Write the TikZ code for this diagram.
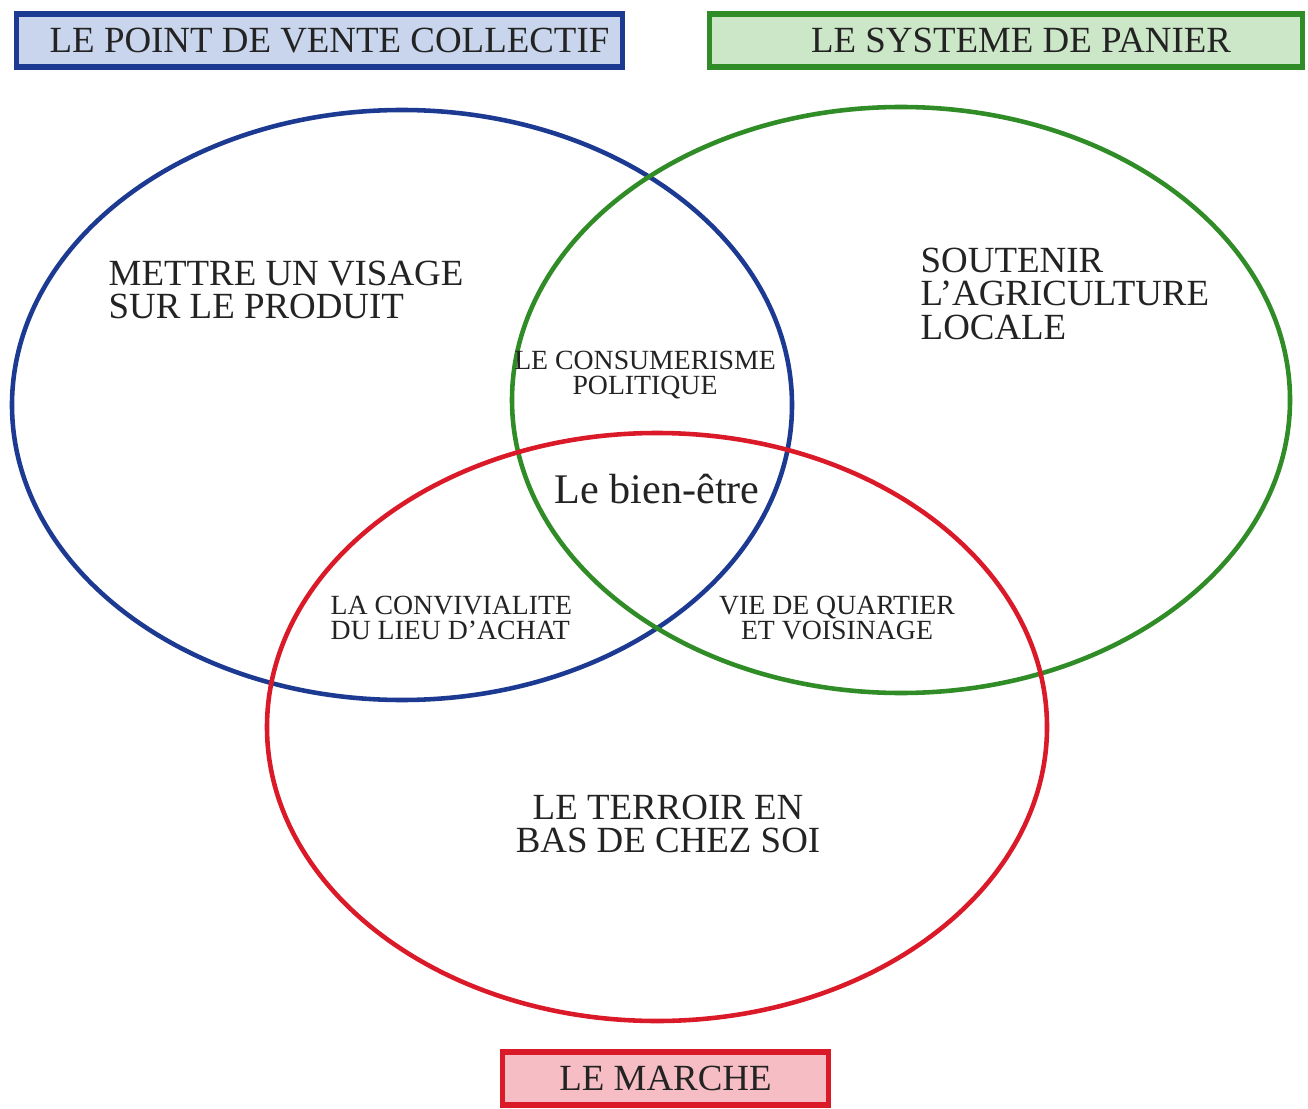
\documentclass[tikz,border=0pt]{standalone}
\usepackage{fontspec}
\setmainfont{Liberation Serif}
\definecolor{venteblue}{RGB}{28,58,145}
\definecolor{venteback}{RGB}{200,213,236}
\definecolor{paniergreen}{RGB}{48,140,38}
\definecolor{panierback}{RGB}{204,230,200}
\definecolor{marchered}{RGB}{218,26,40}
\definecolor{marcheback}{RGB}{246,190,196}
\definecolor{venntext}{RGB}{35,35,35}

\begin{document}
\begin{tikzpicture}[
  titlebox/.style={draw,line width=1.5pt,minimum height=0.53cm,inner sep=0pt,text=venntext,font=\fontsize{10.5}{12}\selectfont},
  bigtext/.style={inner sep=0pt,text=venntext,font=\fontsize{10.5}{9.6}\selectfont},
  smalltext/.style={inner sep=0pt,text=venntext,font=\fontsize{7.9}{7.2}\selectfont},
  vennline/.style={line width=1.3pt}
]
\useasboundingbox (0,0) rectangle (13.08,-11.09);

% the three circles
\draw [vennline,venteblue] (4.02,-4.05) ellipse (3.9 and 2.95);
\draw [vennline,paniergreen] (9.01,-4.00) ellipse (3.89 and 2.93);
\draw [vennline,marchered] (6.57,-7.27) ellipse (3.9 and 2.94);

% titles
\node (vente) [titlebox,color=venteblue,fill=venteback,minimum width=6.06cm] at (3.195,-0.405) {\hspace*{0.2cm}\color{venntext}LE POINT DE VENTE COLLECTIF};
\node (panier) [titlebox,color=paniergreen,fill=panierback,minimum width=5.93cm] at (10.06,-0.405) {\hspace*{0.3cm}\color{venntext}LE SYSTEME DE PANIER};
\node (marche) [titlebox,color=marchered,fill=marcheback,minimum width=3.26cm] at (6.655,-10.785) {\color{venntext}LE MARCHE};

% texts
\node (visage) [bigtext,anchor=north west,align=left] at (1.08,-2.60) {METTRE UN VISAGE\\SUR LE PRODUIT};
\node (soutenir) [bigtext,anchor=north west,align=left] at (9.20,-2.47) {SOUTENIR\\L'AGRICULTURE\\LOCALE};
\node (terroir) [bigtext,anchor=north,align=center] at (6.68,-7.94) {LE TERROIR EN\\BAS DE CHEZ SOI};
\node (consum) [smalltext,anchor=north,align=center] at (6.45,-3.50) {LE CONSUMERISME\\POLITIQUE};
\node (convivial) [smalltext,anchor=north west,align=left] at (3.30,-5.95) {LA CONVIVIALITE\\DU LIEU D'ACHAT};
\node (quartier) [smalltext,anchor=north,align=center] at (8.37,-5.95) {VIE DE QUARTIER\\ET VOISINAGE};
\node (bienetre) [inner sep=0pt,text=venntext,font=\fontsize{12}{14}\selectfont,anchor=north] at (6.57,-4.73) {Le bien-être};
\end{tikzpicture}
\end{document}
